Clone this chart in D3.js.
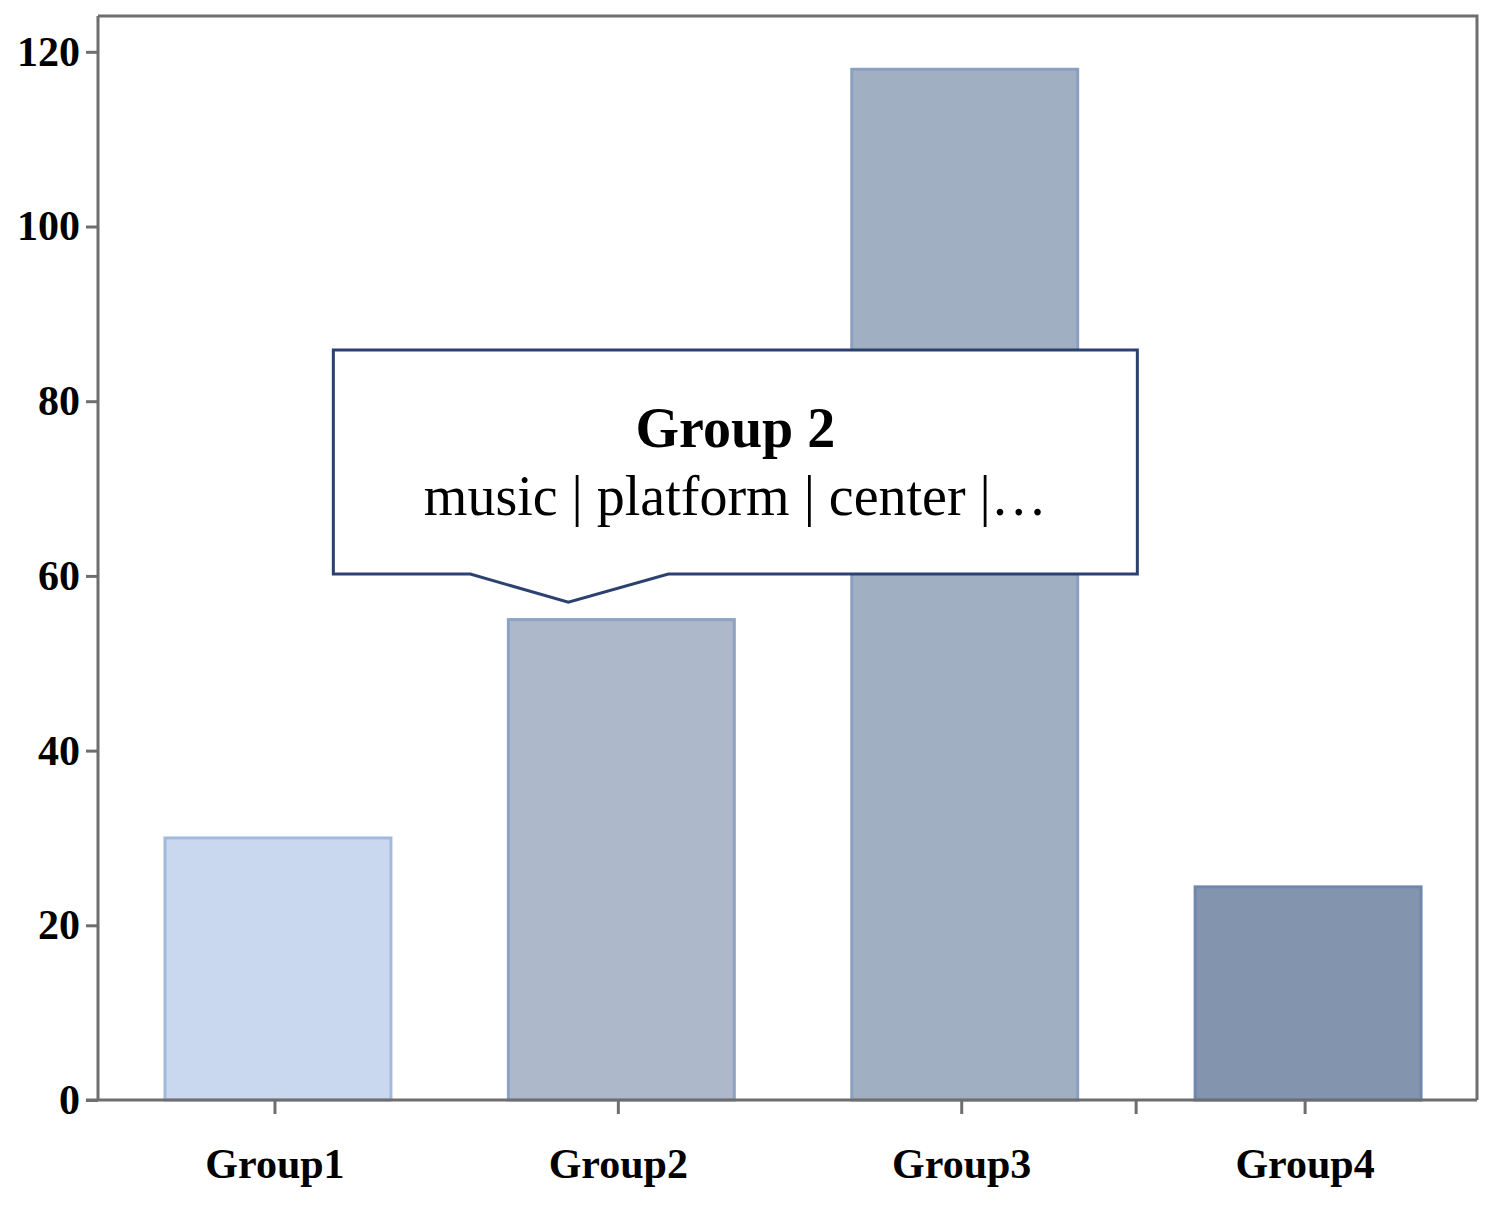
<!DOCTYPE html>
<html>
<head>
<meta charset="utf-8">
<script src="https://cdn.jsdelivr.net/npm/d3@7"></script>
<style>
  body { margin: 0; background: #fff; }
  svg text { font-family: "Liberation Serif", "Times New Roman", serif; }
</style>
</head>
<body>
<div id="canvas"></div>
<script>
// Data
var groups = ["Group1", "Group2", "Group3", "Group4"];
var values = [30, 55, 118, 24.4];
var fills = ["#c9d8ee", "#adb8ca", "#a1afc3", "#8394ae"];
var strokes = ["#a3b8dc", "#8ea2c3", "#8aa0c0", "#6f87ad"];
var yTicks = [0, 20, 40, 60, 80, 100, 120];

// Tooltip content
var tipGroup = "Group2";
var tipTitle = "Group 2";
var tipText = "music | platform | center |\u2026";

// Dimensions and margins
var w = 1498;
var h = 1212;
var margin = {top: 16, right: 21, bottom: 112, left: 98};
var innerWidth = w - margin.left - margin.right;
var innerHeight = h - margin.top - margin.bottom;

var svg = d3.select("#canvas")
    .append("svg")
    .attr("width", w)
    .attr("height", h)
    .style("background-color", "white");

// Scales
var x_scale = d3.scaleBand()
    .domain(groups)
    .range([margin.left, margin.left + innerWidth])
    .paddingInner(0.342)
    .paddingOuter(0.179)
    .align(0.545);

var y_scale = d3.scaleLinear()
    .domain([0, 124.1])
    .range([margin.top + innerHeight, margin.top]);

var axisColor = "#6e6e6e";

// Frame (top and right)
svg.append("path")
    .attr("d", `M${margin.left},${margin.top} H${margin.left + innerWidth} V${margin.top + innerHeight}`)
    .attr("fill", "none")
    .attr("stroke", axisColor)
    .attr("stroke-width", 3);

// Bars
svg.selectAll("rect.bar")
    .data(groups)
    .join("rect")
    .attr("class", "bar")
    .attr("x", d => x_scale(d))
    .attr("width", x_scale.bandwidth())
    .attr("y", (d, i) => y_scale(values[i]))
    .attr("height", (d, i) => y_scale(0) - y_scale(values[i]))
    .attr("fill", (d, i) => fills[i])
    .attr("stroke", (d, i) => strokes[i])
    .attr("stroke-width", 3);

// Y axis
var yAxis = svg.append("g")
    .attr("transform", `translate(${margin.left},0)`)
    .call(d3.axisLeft(y_scale).tickValues(yTicks).tickSize(12).tickPadding(6).tickSizeOuter(0));

// X axis
var xAxis = svg.append("g")
    .attr("transform", `translate(0,${margin.top + innerHeight})`)
    .call(d3.axisBottom(x_scale).tickSize(14).tickPadding(34).tickSizeOuter(0));

// shift ticks/labels slightly left like the original
xAxis.selectAll(".tick").attr("transform", d => `translate(${x_scale(d) + x_scale.bandwidth() / 2 - 3},0)`);

// stray tick between Group3 and Group4
xAxis.append("line")
    .attr("x1", x_scale("Group4") - 59)
    .attr("x2", x_scale("Group4") - 59)
    .attr("y1", 0)
    .attr("y2", 14);

[yAxis, xAxis].forEach(function(g) {
    g.selectAll("path, line")
        .attr("stroke", axisColor)
        .attr("stroke-width", 3);
    g.selectAll("text")
        .attr("fill", "#000")
        .style("font-size", "42px")
        .style("font-weight", "bold")
        .style("font-family", "'Liberation Serif', 'Times New Roman', serif");
});
yAxis.select(".domain").attr("d", `M0,${margin.top} V${margin.top + innerHeight}`);
xAxis.select(".domain").attr("d", `M${margin.left - 12},0 H${margin.left + innerWidth}`);

// Tooltip callout
var gi = groups.indexOf(tipGroup);
var tipX = x_scale(tipGroup) + x_scale.bandwidth() / 2 - 53;
var tipY = y_scale(values[gi] + 2);
var boxL = tipX - 235, boxR = tipX + 569, boxT = tipY - 252, boxB = tipY - 28;

svg.append("path")
    .attr("d", `M${boxL},${boxT} H${boxR} V${boxB} H${tipX + 100} L${tipX},${tipY} L${tipX - 98},${boxB} H${boxL} Z`)
    .attr("fill", "white")
    .attr("stroke", "#2c4170")
    .attr("stroke-width", 3)
    .attr("stroke-linejoin", "miter");

var cx = (boxL + boxR) / 2;
svg.append("text")
    .attr("x", cx)
    .attr("y", boxT + 97)
    .attr("text-anchor", "middle")
    .style("font-size", "56px")
    .style("font-weight", "bold")
    .style("fill", "#000")
    .text(tipTitle);

svg.append("text")
    .attr("x", cx)
    .attr("y", boxT + 165)
    .attr("text-anchor", "middle")
    .style("font-size", "56px")
    .style("fill", "#000")
    .text(tipText);
</script>
</body>
</html>
